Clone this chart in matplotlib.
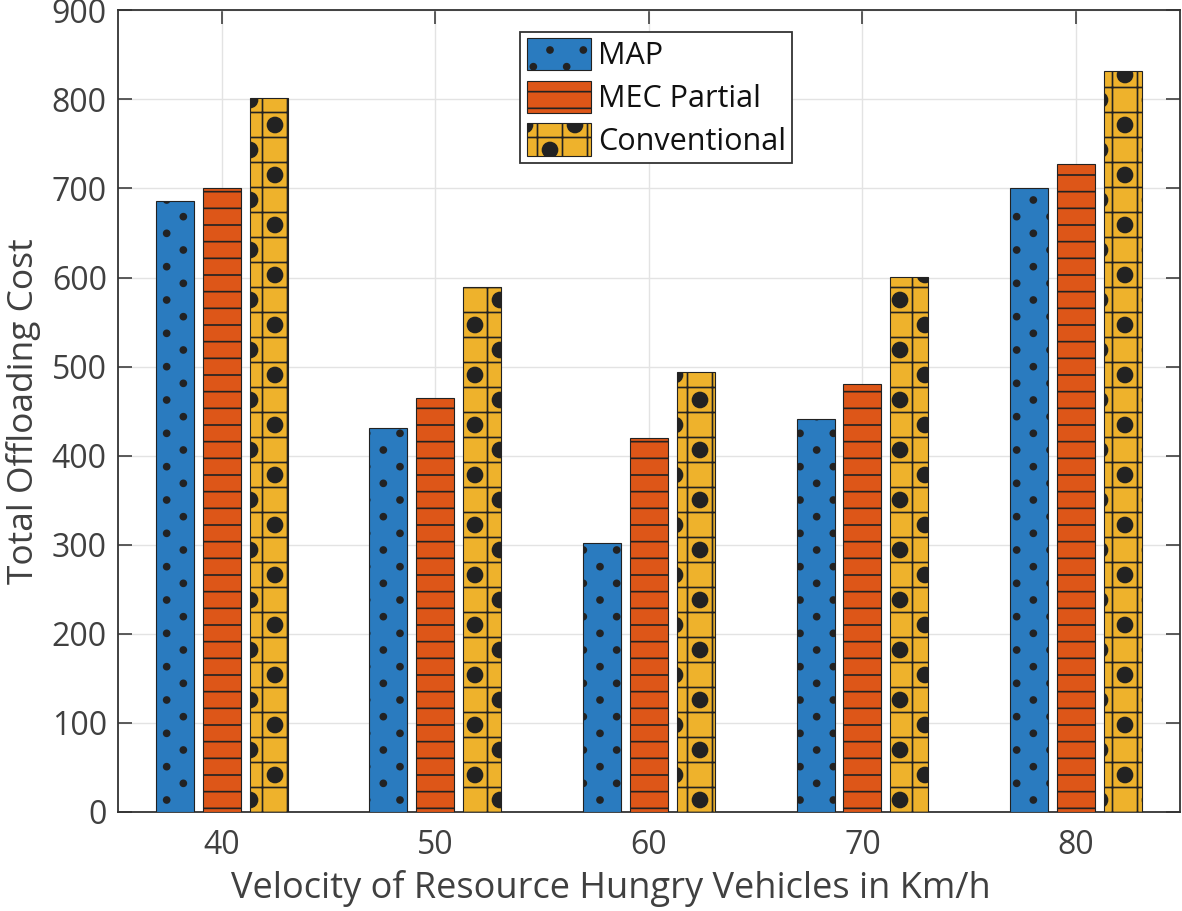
import numpy as np
import matplotlib
matplotlib.use("Agg")
import matplotlib.pyplot as plt
import matplotlib.hatch as mhatch
from matplotlib.path import Path

# data
velocity = [40, 50, 60, 70, 80]
map_cost = [686, 431, 302, 441, 701]
mec_partial = [701, 465, 420, 480, 727]
conventional = [801, 589, 494, 601, 832]


# custom hatches so they look like the MATLAB hatchfill ones
class HLines(mhatch.HatchPatternBase):
    def __init__(self, hatch, density):
        self.num_lines = hatch.count('-') * 6 + hatch.count('+') * 4
        self.num_vertices = self.num_lines * 2

    def set_vertices_and_codes(self, vertices, codes):
        steps = (np.arange(self.num_lines) + 0.5) / self.num_lines
        vertices[0::2, 0] = 0.0
        vertices[0::2, 1] = steps
        vertices[1::2, 0] = 1.0
        vertices[1::2, 1] = steps
        codes[0::2] = Path.MOVETO
        codes[1::2] = Path.LINETO


class VLines(mhatch.HatchPatternBase):
    def __init__(self, hatch, density):
        self.num_lines = hatch.count('|') * 6 + hatch.count('+') * 4
        self.num_vertices = self.num_lines * 2

    def set_vertices_and_codes(self, vertices, codes):
        steps = (np.arange(self.num_lines) + 0.5) / self.num_lines
        vertices[0::2, 0] = steps
        vertices[0::2, 1] = 0.0
        vertices[1::2, 0] = steps
        vertices[1::2, 1] = 1.0
        codes[0::2] = Path.MOVETO
        codes[1::2] = Path.LINETO


class Dots(mhatch.HatchPatternBase):
    char = '.'
    nx, ny, r = 3, 6, 0.03

    def __init__(self, hatch, density):
        self.on = hatch.count(self.char) > 0
        circ = Path.unit_circle()
        self.cv, self.cc = circ.vertices, circ.codes
        self.centers = []
        if self.on:
            for row in range(self.ny + 1):
                if row % 2 == 0:
                    xs = np.arange(self.nx + 1) / self.nx
                else:
                    xs = (np.arange(self.nx) + 0.5) / self.nx
                for xx in xs:
                    self.centers.append((xx, row / self.ny))
        self.num_vertices = len(self.centers) * len(self.cv)

    def set_vertices_and_codes(self, vertices, codes):
        n = len(self.cv)
        for i, (cx, cy) in enumerate(self.centers):
            vertices[i * n:(i + 1) * n] = self.cv * self.r + [cx, cy]
            codes[i * n:(i + 1) * n] = self.cc


class BigDots(Dots):
    char = 'O'
    nx, ny, r = 2, 4, 0.075


types = []
for t in mhatch._hatch_types:
    if t is mhatch.HorizontalHatch:
        t = HLines
    elif t is mhatch.VerticalHatch:
        t = VLines
    elif t is mhatch.SmallFilledCircles:
        t = Dots
    elif t is mhatch.LargeCircles:
        t = BigDots
    types.append(t)
mhatch._hatch_types[:] = types

plt.rcParams['font.family'] = ['Open Sans', 'DejaVu Sans']
plt.rcParams['hatch.linewidth'] = 1.2
plt.rcParams['hatch.color'] = '#111111'

text_col = '#404040'

fig = plt.figure(figsize=(11.82, 9.11), dpi=100)
ax = fig.add_axes([0.0998, 0.1087, 0.8985, 0.880])

x = np.array(velocity)
off = 2.2
w = 1.78
p1 = ax.bar(x - off, map_cost, w, color='#2a7bbf', edgecolor='#222222', linewidth=0.8, hatch='.', zorder=3)
p2 = ax.bar(x, mec_partial, w, color='#dd5618', edgecolor='#222222', linewidth=0.8, hatch='-', zorder=3)
p3 = ax.bar(x + off, conventional, w, color='#eeb22c', edgecolor='#222222', linewidth=0.8, hatch='+O', zorder=3)

ax.set_xlim(35.13, 84.87)
ax.set_ylim(0, 900)
ax.set_xticks(velocity)
ax.set_yticks(np.arange(0, 901, 100))
ax.grid(True, color='#e3e3e3', linewidth=1.0, zorder=0)
ax.set_axisbelow(True)

ax.tick_params(axis='both', direction='in', length=10, width=1.2, colors=text_col,
               labelsize=23, top=True, right=True)
ax.tick_params(axis='x', pad=12)
ax.tick_params(axis='y', pad=8)
for s in ax.spines.values():
    s.set_color('#333333')
    s.set_linewidth(1.3)

ax.set_xlabel('Velocity of Resource Hungry Vehicles in Km/h', fontsize=26, color=text_col, labelpad=0)
ax.xaxis.set_label_coords(0.464, -0.072, transform=ax.transAxes)
ax.xaxis.label.set_va('top')
ax.set_ylabel('Total Offloading Cost', fontsize=25.5, color=text_col, labelpad=8)

leg = ax.legend((p1[0], p2[0], p3[0]), ('MAP', 'MEC Partial', 'Conventional'),
                loc='upper center', bbox_to_anchor=(0.507, 0.973), fontsize=22,
                fancybox=False, edgecolor='#333333', framealpha=1,
                handlelength=2.1, handleheight=1.25, labelspacing=0.3,
                handletextpad=0.25, borderpad=0.2, borderaxespad=0)
leg.get_frame().set_linewidth(1.3)
for t in leg.get_texts():
    t.set_color('#111111')

fig.savefig('out.png', dpi=100)
